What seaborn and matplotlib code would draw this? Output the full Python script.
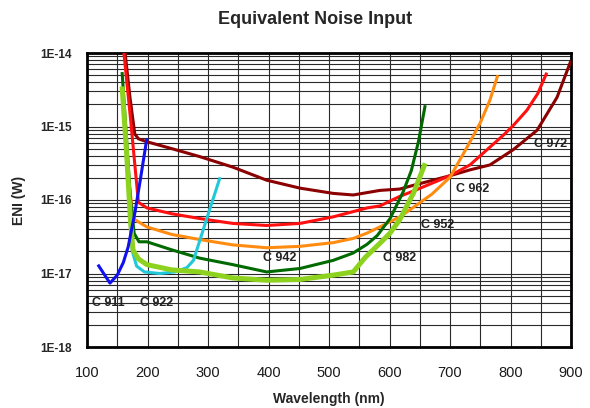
import matplotlib
matplotlib.use("Agg")
import matplotlib.pyplot as plt
import seaborn as sns
import numpy as np
from matplotlib.ticker import FixedLocator, NullFormatter

# ---------------- data ----------------
wl_c911 = [118, 138, 150, 160, 168, 179, 188, 199]
eni_c911 = [1.32e-17, 7.4e-18, 9.5e-18, 1.41e-17, 2.29e-17, 6.6e-17, 1.86e-16, 6.9e-16]

wl_c922 = [171, 175, 182, 195, 220, 245, 265, 276, 283, 300, 320]
eni_c922 = [6.3e-17, 2.0e-17, 1.26e-17, 1.05e-17, 1.0e-17, 1.05e-17, 1.2e-17, 1.51e-17, 2.29e-17, 6.3e-17, 2.04e-16]

wl_c942 = [158, 172, 178, 186, 199, 240, 286, 341, 397, 452, 507, 540, 563, 580, 601, 622, 636, 648, 659]
eni_c942 = [5.5e-15, 1.0e-16, 3.5e-17, 2.7e-17, 2.7e-17, 2.1e-17, 1.62e-17, 1.32e-17, 1.05e-17, 1.17e-17,
            1.51e-17, 1.9e-17, 2.5e-17, 3.3e-17, 5.6e-17, 1.26e-16, 2.5e-16, 6.3e-16, 1.95e-15]

wl_c952 = [170, 175, 179, 199, 240, 286, 341, 397, 452, 507, 540, 563, 584, 617, 639, 670, 700, 728, 750, 766, 779]
eni_c952 = [1.58e-16, 7.1e-17, 5.4e-17, 4.3e-17, 3.4e-17, 2.9e-17, 2.45e-17, 2.24e-17, 2.34e-17, 2.63e-17,
            3.0e-17, 3.55e-17, 4.3e-17, 5.9e-17, 7.9e-17, 1.2e-16, 2.04e-16, 5.2e-16, 1.12e-15, 2.29e-15, 5.0e-15]

wl_c962 = [161, 172, 180, 185, 199, 240, 286, 341, 397, 452, 507, 563, 584, 617, 639, 700, 733, 750, 788, 804, 827, 845, 860]
eni_c962 = [1.0e-14, 1.26e-15, 2.5e-16, 9.3e-17, 7.8e-17, 6.5e-17, 5.6e-17, 4.8e-17, 4.5e-17, 4.8e-17, 5.9e-17,
            7.8e-17, 8.3e-17, 1.12e-16, 1.32e-16, 2.14e-16, 3.0e-16, 4.0e-16, 7.6e-16, 1.02e-15, 1.66e-15, 2.8e-15, 5.4e-15]

wl_c972 = [163, 171, 179, 185, 199, 240, 286, 341, 397, 452, 507, 540, 584, 617, 639, 700, 733, 766, 804, 844, 877, 900]
eni_c972 = [1.0e-14, 2.5e-15, 7.9e-16, 6.8e-16, 6.2e-16, 5.0e-16, 3.9e-16, 2.8e-16, 1.86e-16, 1.45e-16, 1.23e-16,
            1.17e-16, 1.35e-16, 1.41e-16, 1.58e-16, 2.14e-16, 2.57e-16, 3.0e-16, 4.8e-16, 8.9e-16, 2.5e-15, 7.9e-15]

wl_c982 = [158, 165, 172, 176, 185, 199, 240, 286, 341, 397, 452, 507, 540, 560, 584, 601, 617, 640, 659]
eni_c982 = [3.5e-15, 5.0e-16, 5.0e-17, 2.1e-17, 1.58e-17, 1.32e-17, 1.12e-17, 1.05e-17, 8.7e-18, 8.1e-18,
            8.3e-18, 9.5e-18, 1.05e-17, 1.66e-17, 2.57e-17, 3.55e-17, 5.4e-17, 1.26e-16, 3.16e-16]

series_names = ["C 972", "C 962", "C 952", "C 942", "C 922", "C 982", "C 911"]
series_colors = ["#8B0000", "#FF1010", "#FF8C10", "#006A00", "#20C8D8", "#8CD21E", "#1010F0"]

label_names = ["C 911", "C 922", "C 942", "C 952", "C 962", "C 972", "C 982"]
label_wl = [135, 215, 419, 679, 737, 867, 617]
label_eni = [4.0e-18, 4.0e-18, 1.62e-17, 4.6e-17, 1.41e-16, 5.8e-16, 1.62e-17]

x_ticks = [100, 200, 300, 400, 500, 600, 700, 800, 900]
y_ticks = [1e-18, 1e-17, 1e-16, 1e-15, 1e-14]
y_tick_labels = ["1E-18", "1E-17", "1E-16", "1E-15", "1E-14"]

# ---------------- figure ----------------
sns.set_style("white")
plt.rcParams["font.family"] = ["Liberation Sans", "DejaVu Sans"]

fig = plt.figure(figsize=(5.9, 4.08), dpi=100)
ax = fig.add_axes([87 / 590, 1 - 347 / 408, (571 - 87) / 590, (347 - 53) / 408])

data = {
    "C 911": (wl_c911, eni_c911),
    "C 922": (wl_c922, eni_c922),
    "C 942": (wl_c942, eni_c942),
    "C 952": (wl_c952, eni_c952),
    "C 962": (wl_c962, eni_c962),
    "C 972": (wl_c972, eni_c972),
    "C 982": (wl_c982, eni_c982),
}

for name, col in zip(series_names, series_colors):
    wl, eni = data[name]
    lw = 3.6 if name == "C 982" else 2.2
    sns.lineplot(x=wl, y=eni, ax=ax, color=col, linewidth=lw, sort=False,
                 estimator=None, legend=False, zorder=3)
for line in ax.lines:
    line.set_solid_joinstyle("round")
    line.set_solid_capstyle("butt")

ax.set_yscale("log")
ax.set_xlim(100, 900)
ax.set_ylim(1e-18, 1e-14)

# grid
ax.xaxis.set_major_locator(FixedLocator(x_ticks))
ax.xaxis.set_minor_locator(FixedLocator(list(range(150, 900, 100))))
ax.set_yticks(y_ticks)
ax.set_yticklabels(y_tick_labels)
minor_y = [m * 10.0 ** e for e in range(-18, -14) for m in range(2, 10)]
ax.yaxis.set_minor_locator(FixedLocator(minor_y))
ax.yaxis.set_minor_formatter(NullFormatter())
ax.grid(True, which="both", axis="both", color="#2a2a2a", linewidth=0.8, zorder=1)
ax.set_axisbelow(True)

ax.tick_params(axis="both", which="both", length=0)
ax.tick_params(axis="x", pad=14, labelsize=10.5, colors="#1a1a1a")
ax.tick_params(axis="y", pad=11, labelsize=8.5)
for t in ax.get_yticklabels():
    t.set_fontweight("bold")

for s in ax.spines.values():
    s.set_visible(True)
    s.set_color("black")
    s.set_linewidth(2.0)

ax.set_xlabel("Wavelength (nm)", fontsize=10, fontweight="bold", labelpad=8)
ax.set_ylabel("ENI (W)", fontsize=10, fontweight="bold", labelpad=10)

for n, x, y in zip(label_names, label_wl, label_eni):
    ax.text(x, y, n, ha="center", va="center", fontsize=9, fontweight="bold",
            color="#222222", zorder=5)

fig.text(315 / 590, 1 - 20 / 408, "Equivalent Noise Input", ha="center", va="center",
         fontsize=13, fontweight="bold")

fig.savefig("out.png", dpi=100)
